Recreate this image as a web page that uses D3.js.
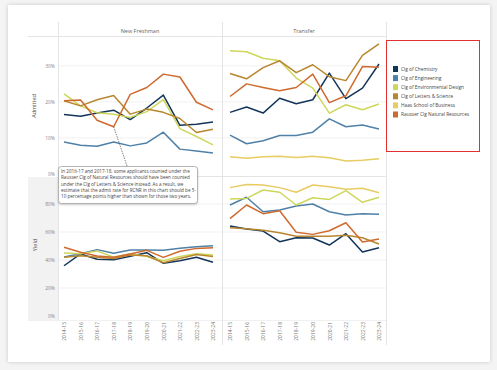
<!DOCTYPE html>
<html>
<head>
<meta charset="utf-8">
<script src="https://cdn.jsdelivr.net/npm/d3@7"></script>
<style>
  body { margin: 0; background: #f4f4f4; font-family: "Open Sans", "DejaVu Sans", sans-serif; }
  #card { position: absolute; left: 8px; top: 5px; width: 482px; height: 357px; background: #fff;
          box-shadow: 0 0 4px rgba(0,0,0,0.18); }
  svg { position: absolute; left: 0; top: 0; }
</style>
</head>
<body>
<div id="card"></div>
<div id="container"></div>
<script>
/* data */
var years = ["2014-15","2015-16","2016-17","2017-18","2018-19","2019-20","2020-21","2021-22","2022-23","2023-24"];
var colleges = ["Clg of Chemistry","Clg of Engineering","Clg of Environmental Design","Clg of Letters & Science","Haas School of Business","Rausser Clg Natural Resources"];
var colors = ["#13355a","#4f81a8","#cfd75a","#b8862f","#e8cc62","#cf6a2e"];

// admit rate, new freshman (no Haas line)
var frAdmit = {
  "Clg of Chemistry":              [16.5,16.0,16.9,17.7,15.1,18.3,21.9,13.5,13.8,14.4],
  "Clg of Engineering":            [8.9,8.0,7.7,8.9,7.8,8.6,11.6,6.9,6.4,5.8],
  "Clg of Environmental Design":   [22.2,18.9,17.0,16.6,15.7,17.3,20.6,12.6,10.4,8.1],
  "Clg of Letters & Science":      [20.3,18.9,20.6,21.8,16.6,18.0,17.1,15.4,11.5,12.4],
  "Rausser Clg Natural Resources": [20.3,20.5,14.9,13.1,22.1,24.0,27.7,26.9,19.9,17.8]
};
// admit rate, transfer
var trAdmit = {
  "Clg of Chemistry":              [17.1,18.6,16.9,21.0,19.5,20.6,28.0,20.9,23.8,30.5],
  "Clg of Engineering":            [10.8,8.4,9.2,10.7,10.7,11.6,15.3,13.1,13.6,12.5],
  "Clg of Environmental Design":   [34.2,33.9,32.1,31.4,26.6,23.8,16.9,19.2,17.8,19.4],
  "Clg of Letters & Science":      [27.9,26.4,29.5,31.4,28.1,30.3,27.0,25.9,32.9,36.1],
  "Haas School of Business":       [4.8,4.4,4.8,4.9,4.6,4.9,4.5,3.6,3.8,4.2],
  "Rausser Clg Natural Resources": [21.5,25.0,24.0,23.1,24.0,27.7,19.8,21.7,29.8,29.6]
};
// yield, new freshman
var frYield = {
  "Clg of Chemistry":              [35.9,44.3,40.5,40.2,42.6,45.2,37.6,39.5,41.9,38.4],
  "Clg of Engineering":            [42.1,44.5,47.4,44.8,47.1,47.1,46.9,48.4,49.5,50.2],
  "Clg of Environmental Design":   [45.0,44.5,46.5,42.0,44.5,42.5,39.5,42.5,44.5,43.5],
  "Clg of Letters & Science":      [42.0,43.0,42.0,41.0,43.5,43.0,38.0,41.0,44.0,42.5],
  "Rausser Clg Natural Resources": [49.1,45.5,42.9,41.9,44.3,46.9,41.9,46.2,48.3,48.8]
};
// yield, transfer
var trYield = {
  "Clg of Chemistry":              [64.3,62.1,60.7,53.1,55.9,55.7,50.7,58.8,45.7,48.8],
  "Clg of Engineering":            [79.3,84.8,74.5,75.7,78.6,80.0,74.5,72.1,73.1,72.6],
  "Clg of Environmental Design":   [83.6,84.0,90.0,88.4,79.3,84.5,83.3,89.5,81.2,84.8],
  "Clg of Letters & Science":      [63.1,62.4,61.2,59.5,56.9,56.9,56.9,57.6,55.9,51.4],
  "Haas School of Business":       [91.7,94.0,93.6,91.7,88.4,93.6,92.4,90.5,91.2,88.1],
  "Rausser Clg Natural Resources": [69.5,79.3,73.1,75.2,59.8,58.3,60.9,66.6,52.9,55.0]
};
var admitTicks = [0,10,20,30];
var yieldTicks = [0,20,40,60,80];
var note = [
  "In 2016-17 and 2017-18, some applicants counted under the",
  "Rausser Clg of Natural Resources should have been counted",
  "under the Clg of Letters & Science instead. As a result, we",
  "estimate that the admit rate for RCNR in this chart should be 5-",
  "10 percentage points higher than shown for those two years."
];

var width = 497, height = 370;
var svg = d3.select("#container").append("svg").attr("width", width).attr("height", height);

var color = d3.scaleOrdinal().domain(colleges).range(colors);

var xLeft = d3.scalePoint().domain(years).range([64, 213]);
var xRight = d3.scalePoint().domain(years).range([230, 379]);
var yAdmit = d3.scaleLinear().domain([0, 38]).range([174, 37]);
var yYield = d3.scaleLinear().domain([0, 100]).range([316, 176]);

/* shaded axis cell for the Yield row */
svg.append("rect").attr("x", 28).attr("y", 177).attr("width", 30).attr("height", 143).attr("fill", "#f2f2f2");

/* gridlines */
function grid(y, ticks, x0, x1) {
  svg.append("g").selectAll("line").data(ticks.filter(function(t){ return t > 0; })).enter().append("line")
    .attr("x1", x0).attr("x2", x1)
    .attr("y1", function(d){ return y(d); }).attr("y2", function(d){ return y(d); })
    .attr("stroke", "#f1f1f1").attr("stroke-width", 1);
}
grid(yAdmit, admitTicks, 58, 387);
grid(yYield, yieldTicks, 58, 387);

/* frame lines */
var frame = svg.append("g").attr("stroke", "#e4e4e4").attr("stroke-width", 1).attr("shape-rendering", "crispEdges");
frame.append("line").attr("x1", 28).attr("x2", 387).attr("y1", 36.5).attr("y2", 36.5);
frame.append("line").attr("x1", 58).attr("x2", 387).attr("y1", 176.5).attr("y2", 176.5);
frame.append("line").attr("x1", 28).attr("x2", 387).attr("y1", 320.5).attr("y2", 320.5).attr("stroke", "#f0f0f0");
frame.append("line").attr("x1", 58.5).attr("x2", 58.5).attr("y1", 22).attr("y2", 320);
frame.append("line").attr("x1", 222.5).attr("x2", 222.5).attr("y1", 22).attr("y2", 345);
frame.append("line").attr("x1", 386.5).attr("x2", 386.5).attr("y1", 22).attr("y2", 345);

/* column headers */
svg.append("text").attr("x", 140).attr("y", 33).attr("text-anchor", "middle")
  .attr("font-size", 5.5).attr("fill", "#666").text("New Freshman");
svg.append("text").attr("x", 304).attr("y", 33).attr("text-anchor", "middle")
  .attr("font-size", 5.5).attr("fill", "#666").text("Transfer");

/* row labels */
svg.append("text").attr("transform", "translate(36,106) rotate(-90)").attr("text-anchor", "middle")
  .attr("font-size", 5.5).attr("fill", "#555").text("Admitted");
svg.append("text").attr("transform", "translate(37,245) rotate(-90)").attr("text-anchor", "middle")
  .attr("font-size", 5.5).attr("fill", "#555").text("Yield");

/* y axes */
function yAxis(y, ticks) {
  var g = svg.append("g").attr("transform", "translate(55,0)")
    .call(d3.axisLeft(y).tickValues(ticks).tickSize(0).tickPadding(0).tickFormat(function(d){ return d + "%"; }));
  g.select(".domain").remove();
  g.selectAll("text").attr("font-size", 5).attr("fill", "#888").attr("font-family", "Open Sans, DejaVu Sans, sans-serif");
}
yAxis(yAdmit, admitTicks);
yAxis(yYield, yieldTicks);

/* x axes */
function xAxis(x) {
  var g = svg.append("g").attr("transform", "translate(0,322)")
    .call(d3.axisBottom(x).tickSize(0).tickPadding(0));
  g.select(".domain").remove();
  g.selectAll("text")
    .attr("font-size", 5).attr("fill", "#777").attr("font-family", "Open Sans, DejaVu Sans, sans-serif")
    .attr("transform", "rotate(-90)").attr("text-anchor", "end")
    .attr("x", 0).attr("y", 0).attr("dy", "0.35em");
}
xAxis(xLeft);
xAxis(xRight);

/* lines */
function drawLines(data, x, y) {
  var line = d3.line().x(function(d, i){ return x(years[i]); }).y(function(d){ return y(d); });
  svg.append("g").selectAll("path").data(Object.keys(data)).enter().append("path")
    .attr("d", function(k){ return line(data[k]); })
    .attr("fill", "none")
    .attr("stroke", function(k){ return color(k); })
    .attr("stroke-width", 1.5)
    .attr("stroke-linejoin", "round");
}
drawLines(frAdmit, xLeft, yAdmit);
drawLines(trAdmit, xRight, yAdmit);
drawLines(frYield, xLeft, yYield);
drawLines(trYield, xRight, yYield);

/* annotation */
var px = xLeft("2017-18"), py = yAdmit(frAdmit["Rausser Clg Natural Resources"][3]);
svg.append("line").attr("x1", px).attr("y1", py).attr("x2", 127).attr("y2", 166)
  .attr("stroke", "#333").attr("stroke-width", 0.6).attr("stroke-dasharray", "1.5,1");
svg.append("rect").attr("x", 58.5).attr("y", 166.5).attr("width", 139).attr("height", 37).attr("rx", 3)
  .attr("fill", "#fff").attr("stroke", "#999").attr("stroke-width", 0.7)
  .style("filter", "drop-shadow(0px 1px 1px rgba(0,0,0,0.2))");
svg.append("g").selectAll("text").data(note).enter().append("text")
  .attr("x", 61).attr("y", function(d, i){ return 173 + i * 6.3; })
  .attr("font-size", 4.6).attr("fill", "#444").text(function(d){ return d; });

/* legend */
svg.append("rect").attr("x", 386.5).attr("y", 40.5).attr("width", 93).attr("height", 111)
  .attr("fill", "#fff").attr("stroke", "#e03030").attr("stroke-width", 1);
var leg = svg.append("g").selectAll("g").data(colleges).enter().append("g")
  .attr("transform", function(d, i){ return "translate(393," + (66 + i * 9.1) + ")"; });
leg.append("rect").attr("width", 5).attr("height", 6).attr("fill", function(d){ return color(d); });
leg.append("text").attr("x", 8).attr("y", 4.8).attr("font-size", 4.8).attr("fill", "#444")
  .text(function(d){ return d; });
</script>
</body>
</html>
